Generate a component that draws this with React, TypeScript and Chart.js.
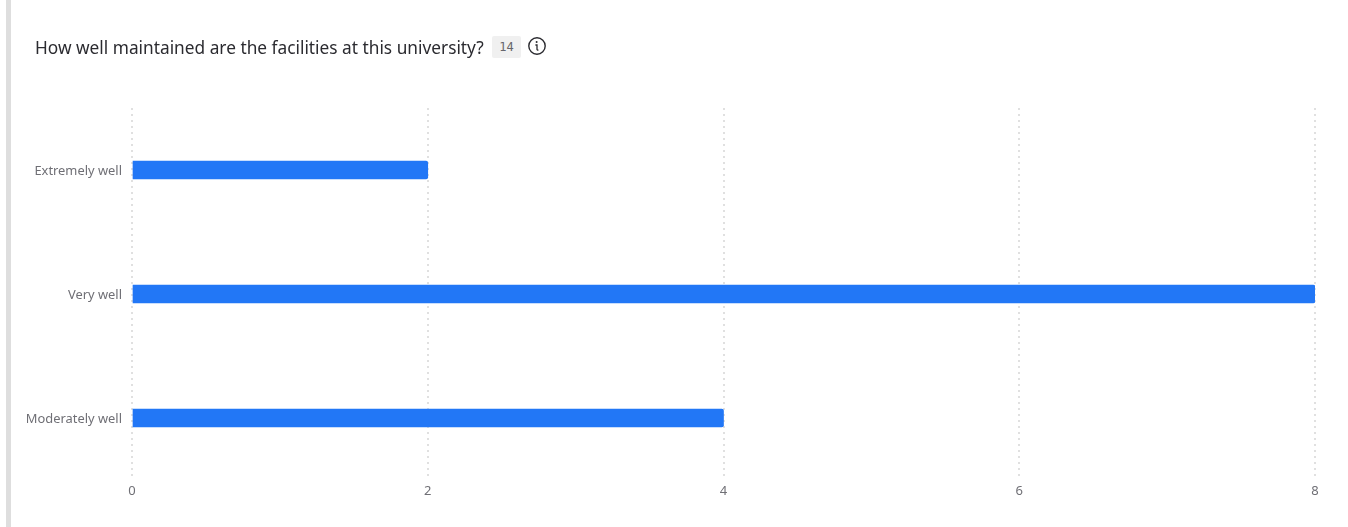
import React, { useEffect, useRef } from "react";
import { Chart, registerables } from "chart.js";

Chart.register(...registerables);

const categories = ["Extremely well", "Very well", "Moderately well"];
const responses = [2, 8, 4];
const questionTitle = "How well maintained are the facilities at this university?";
const responseCount = "14";

const FONT = '"Noto Sans", sans-serif';

export default function App() {
  const canvasRef = useRef<HTMLCanvasElement | null>(null);

  useEffect(() => {
    document.body.style.margin = "0";
    document.body.style.background = "#fff";
    const chart = new Chart(canvasRef.current!, {
      type: "bar",
      data: {
        labels: categories,
        datasets: [
          {
            data: responses,
            backgroundColor: "#2277f6",
            borderRadius: { topLeft: 0, bottomLeft: 0, topRight: 2, bottomRight: 2 },
            borderSkipped: false,
            barThickness: 18,
          },
        ],
      },
      options: {
        indexAxis: "y",
        animation: false,
        responsive: false,
        layout: { padding: { top: 108, right: 33, left: 0, bottom: 0 } },
        plugins: { legend: { display: false }, tooltip: { enabled: false } },
        scales: {
          x: {
            min: 0,
            max: 8,
            afterFit: (axis: any) => {
              axis.height = 47;
            },
            ticks: {
              stepSize: 2,
              padding: 3,
              maxRotation: 0,
              color: "#6f6f75",
              font: { family: FONT, size: 13 },
            },
            border: { display: false, dash: [2, 4] },
            grid: { color: "#e0e0e0", lineWidth: 2, drawTicks: false },
          },
          y: {
            afterFit: (axis: any) => {
              axis.width = 132;
            },
            ticks: {
              padding: 10,
              labelOffset: 1.5,
              color: "#6f6f75",
              font: { family: FONT, size: 12.9 },
            },
            border: { display: false },
            grid: { display: false, drawTicks: false },
          },
        },
      },
    });
    return () => chart.destroy();
  }, []);

  return (
    <div style={{ position: "relative", width: 1348, height: 527, overflow: "hidden", background: "#fff" }}>
      <canvas ref={canvasRef} width={1348} height={527} style={{ position: "absolute", left: 0, top: 0 }} />
      <div style={{ position: "absolute", left: 6, top: 0, width: 5, height: 527, background: "#dedede" }} />
      <div
        style={{
          position: "absolute",
          left: 35,
          top: 35,
          fontFamily: FONT,
          fontSize: 17.3,
          lineHeight: "25px",
          color: "#2b2b30",
          whiteSpace: "nowrap",
        }}
      >
        {questionTitle}
      </div>
      <div
        style={{
          position: "absolute",
          left: 492,
          top: 36,
          width: 29,
          height: 22,
          background: "#f0f0f0",
          borderRadius: 2,
          fontFamily: '"DejaVu Sans Mono", monospace',
          fontSize: 12,
          lineHeight: "22px",
          textAlign: "center",
          color: "#66666c",
        }}
      >
        {responseCount}
      </div>
      <svg width={20} height={20} style={{ position: "absolute", left: 527, top: 36 }}>
        <circle cx={10} cy={10} r={8.2} fill="none" stroke="#2b2b30" strokeWidth={1.4} />
        <circle cx={9.6} cy={6} r={1} fill="#2b2b30" />
        <path d="M8.4 9 H10 V13.2 Q10 14.2 11.4 14" fill="none" stroke="#2b2b30" strokeWidth={1.3} />
      </svg>
    </div>
  );
}
